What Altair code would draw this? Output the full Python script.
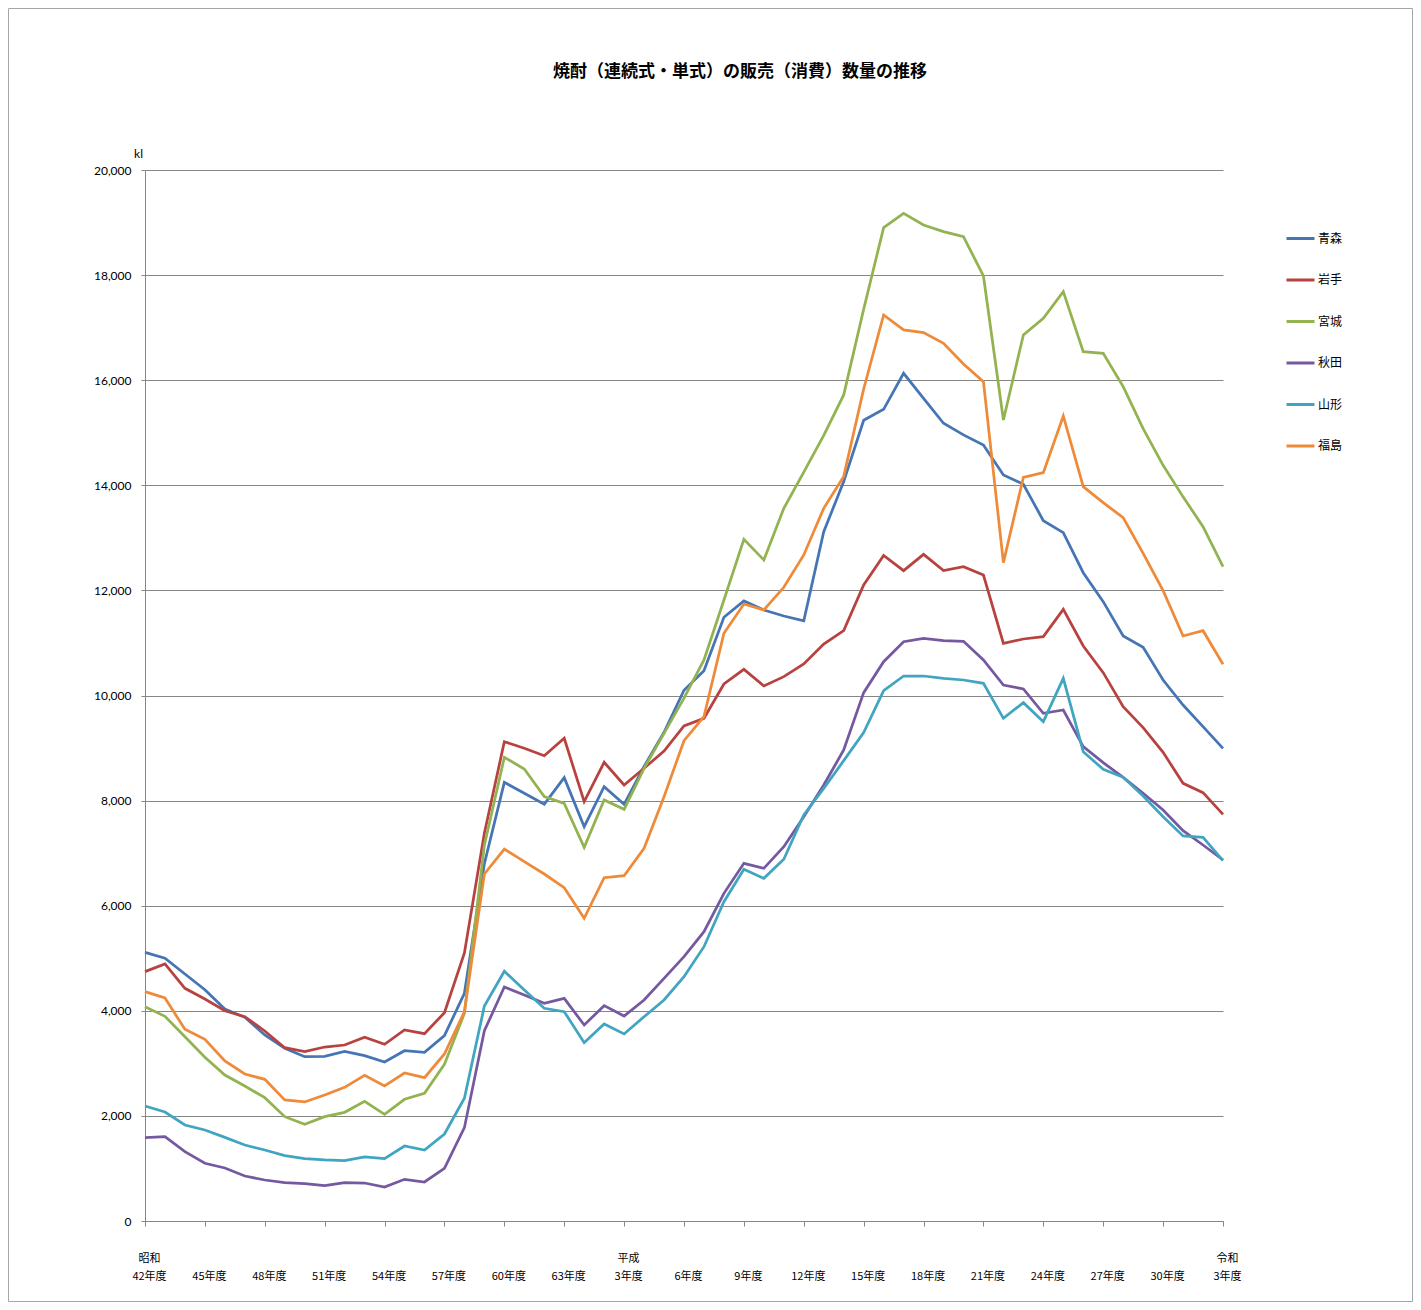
import altair as alt
import pandas as pd

# ---------------- data ----------------
YEARS = list(range(1967, 2022))  # 昭和42年度 … 令和3年度
SERIES = ["青森", "岩手", "宮城", "秋田", "山形", "福島"]
COLORS = ["#4575B4", "#B8423F", "#92B350", "#7559A0", "#40A5C0", "#EE8A38"]

AOMORI = [5113, 5000, 4700, 4400, 4034, 3876, 3540, 3286, 3127, 3134,
          3229, 3146, 3026, 3241, 3210, 3527, 4333, 6800, 8348, 8139,
          7930, 8437, 7504, 8265, 7930, 8650, 9300, 10100, 10473, 11488,
          11799, 11627, 11513, 11420, 13118, 14070, 15237, 15446, 16131, 15656,
          15180, 14960, 14767, 14196, 14020, 13327, 13099, 12337, 11786, 11133,
          10917, 10295, 9819, 9407, 8995]
IWATE = [4745, 4891, 4428, 4225, 4002, 3888, 3616, 3298, 3222, 3311,
         3349, 3496, 3362, 3635, 3565, 3964, 5100, 7378, 9121, 8996,
         8855, 9186, 7980, 8729, 8297, 8615, 8944, 9420, 9566, 10219,
         10498, 10181, 10359, 10600, 10980, 11234, 12103, 12665, 12376, 12686,
         12376, 12452, 12293, 10993, 11075, 11120, 11640, 10942, 10435, 9788,
         9388, 8918, 8329, 8151, 7739]
MIYAGI = [4078, 3895, 3507, 3115, 2778, 2569, 2347, 1985, 1840, 1985,
          2068, 2278, 2030, 2316, 2430, 2982, 3952, 7150, 8824, 8602,
          8075, 7948, 7111, 8012, 7834, 8614, 9280, 9950, 10676, 11818,
          12973, 12579, 13563, 14250, 14950, 15720, 17350, 18903, 19176, 18954,
          18827, 18732, 17984, 15243, 16861, 17178, 17685, 16543, 16512, 15877,
          15080, 14380, 13780, 13213, 12452]
AKITA = [1585, 1604, 1319, 1098, 1009, 856, 780, 729, 710, 672,
         729, 723, 647, 793, 742, 1003, 1776, 3620, 4453, 4301,
         4142, 4237, 3730, 4098, 3901, 4206, 4618, 5030, 5506, 6235,
         6807, 6711, 7123, 7694, 8297, 8963, 10054, 10644, 11024, 11088,
         11043, 11031, 10676, 10200, 10124, 9661, 9724, 9027, 8722, 8443,
         8139, 7821, 7428, 7155, 6870]
YAMAGATA = [2188, 2074, 1827, 1732, 1592, 1446, 1351, 1243, 1186, 1161,
            1148, 1218, 1186, 1427, 1351, 1656, 2335, 4091, 4752, 4396,
            4047, 3984, 3394, 3749, 3559, 3888, 4206, 4650, 5220, 6077,
            6692, 6521, 6883, 7726, 8234, 8760, 9293, 10092, 10371, 10371,
            10327, 10295, 10232, 9566, 9864, 9502, 10327, 8931, 8595, 8443,
            8088, 7694, 7327, 7301, 6857]
FUKUSHIMA = [4364, 4244, 3648, 3458, 3045, 2797, 2696, 2303, 2265, 2398,
             2544, 2772, 2569, 2816, 2727, 3178, 3983, 6603, 7076, 6838,
             6603, 6343, 5760, 6533, 6571, 7092, 8075, 9140, 9598, 11184,
             11741, 11627, 12059, 12674, 13563, 14170, 15833, 17241, 16956, 16905,
             16702, 16309, 15973, 12528, 14152, 14241, 15319, 13974, 13669, 13384,
             12706, 11995, 11133, 11233, 10594]

VALUES = [AOMORI, IWATE, MIYAGI, AKITA, YAMAGATA, FUKUSHIMA]

TICK_YEARS = list(range(1967, 2022, 3))
TICK_LABELS = ["昭和\n42年度", "45年度", "48年度", "51年度", "54年度", "57年度",
               "60年度", "63年度", "平成\n3年度", "6年度", "9年度", "12年度",
               "15年度", "18年度", "21年度", "24年度", "27年度", "30年度",
               "令和\n3年度"]
Y_TICKS = list(range(0, 20001, 2000))
TITLE = "焼酎（連続式・単式）の販売（消費）数量の推移"
Y_UNIT = "kl"

# ---------------- table ----------------
rows = []
for name, vals in zip(SERIES, VALUES):
    for yr, v in zip(YEARS, vals):
        rows.append({"year": yr, "pref": name, "value": v})
df = pd.DataFrame(rows)

# x-axis label expression (multi-line labels, single ones sit on 2nd line)
parts = []
for yr, lab in zip(TICK_YEARS, TICK_LABELS):
    lines = lab.split("\n")
    if len(lines) == 1:
        lines = ["", lines[0]]
    arr = "[" + ",".join("'" + s + "'" for s in lines) + "]"
    parts.append(f"datum.value == {yr} ? {arr} : ")
label_expr = "".join(parts) + "''"

JP = "Noto Sans CJK JP"
AXIS_GRAY = "#868686"

W, H = 1078, 1051
PAD = {"left": 137, "top": 162, "right": 190, "bottom": 81}

lines = alt.Chart(df).mark_line(strokeWidth=2.75).encode(
    x=alt.X("year:Q",
            scale=alt.Scale(domain=[1967, 2021], nice=False, zero=False),
            axis=alt.Axis(values=TICK_YEARS, labelExpr=label_expr, grid=False,
                          domainColor=AXIS_GRAY, tickColor=AXIS_GRAY, tickSize=5,
                          labelPadding=26, labelFont=JP, labelFontSize=11,
                          labelLineHeight=18, labelOverlap=False, labelFlush=False,
                          labelOffset=4,
                          labelColor="#000000", labelBaseline="top", title=None)),
    y=alt.Y("value:Q",
            scale=alt.Scale(domain=[0, 20000], nice=False),
            axis=alt.Axis(values=Y_TICKS, format=",d", grid=True,
                          gridColor=AXIS_GRAY, gridWidth=1,
                          domainColor=AXIS_GRAY, tickColor=AXIS_GRAY, tickSize=4,
                          labelPadding=10, labelFont="Lato", labelFontSize=12,
                          labelColor="#000000",
                          title=Y_UNIT, titleAngle=0, titleX=-7, titleY=-17,
                          titleAlign="center", titleBaseline="middle",
                          titleFont="Lato", titleFontSize=12,
                          titleFontWeight="normal", titleColor="#000000")),
    color=alt.Color("pref:N",
                    scale=alt.Scale(domain=SERIES, range=COLORS),
                    legend=alt.Legend(orient="none", legendX=1140, legendY=53,
                                      title=None, symbolType="stroke",
                                      symbolSize=784, symbolStrokeWidth=3,
                                      labelFont=JP, labelFontSize=12,
                                      labelColor="#000000", labelOffset=2,
                                      rowPadding=19.5, padding=0)),
    detail="pref:N",
)

title = alt.Chart(pd.DataFrame({"t": [TITLE]})).mark_text(
    font=JP, fontSize=17, fontWeight="bold", align="center", baseline="middle",
    color="#000000"
).encode(text="t:N", x=alt.value(595), y=alt.value(-98))

border = alt.Chart(pd.DataFrame({"a": [0]})).mark_rect(
    fillOpacity=0, stroke="#a6a6a6", strokeWidth=1
).encode(x=alt.value(-136.5), x2=alt.value(1267.5),
         y=alt.value(-161.5), y2=alt.value(1131.5))

chart = alt.layer(border, lines, title).properties(
    width=W, height=H,
    autosize=alt.AutoSizeParams(type="none"),
    padding=PAD,
    background="#ffffff",
).configure_view(strokeWidth=0)

chart.save("out.html", embed_options={"renderer": "svg", "actions": False})
